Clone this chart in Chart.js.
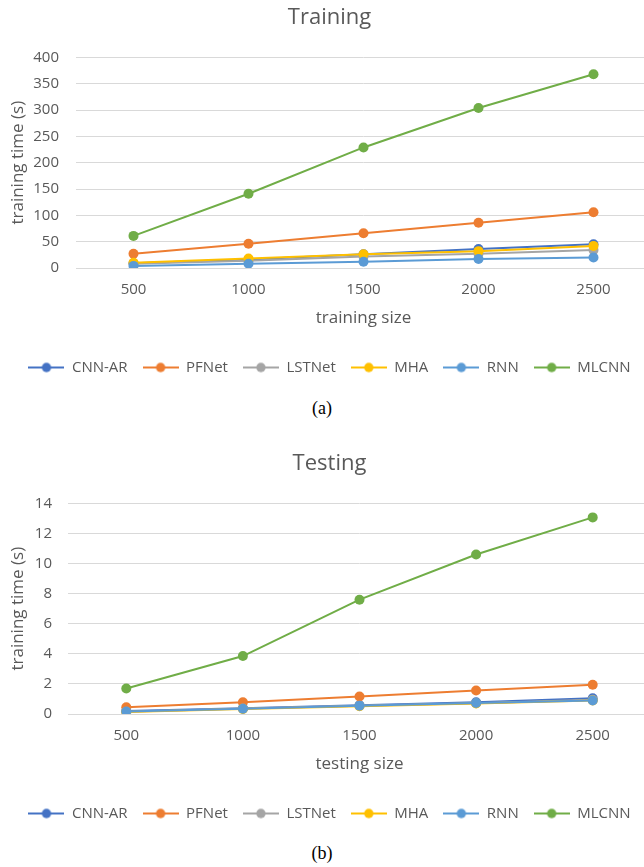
<!DOCTYPE html>
<html>
<head>
<meta charset="utf-8">
<script src="https://cdn.jsdelivr.net/npm/chart.js@4/dist/chart.umd.min.js"></script>
<style>
  html, body { margin: 0; padding: 0; background: #fff; overflow: hidden; width: 644px; height: 867px; }
  .wrap { position: absolute; left: 0; width: 656px; height: 385px; }
  .cap { position: absolute; left: 0; width: 644px; text-align: center; font-family: 'Liberation Serif', 'Times New Roman', serif; font-size: 18px; line-height: 22px; color: #000; }
</style>
</head>
<body>
<div class="wrap" style="top:0px"><canvas id="c1" width="656" height="385"></canvas></div>
<div class="cap" style="top:397px">(a)</div>
<div class="wrap" style="top:446px"><canvas id="c2" width="656" height="385"></canvas></div>
<div class="cap" style="top:842px">(b)</div>
<script>
// ---- data ----
const categories = ['500', '1000', '1500', '2000', '2500'];
const seriesNames = ['CNN-AR', 'PFNet', 'LSTNet', 'MHA', 'RNN', 'MLCNN'];

const cnnarTrain  = [9, 16, 26, 36, 45];
const pfnetTrain  = [27, 46, 66, 86, 106];
const lstnetTrain = [8, 14, 22, 27, 34];
const mhaTrain    = [10, 18, 26, 32, 42];
const rnnTrain    = [4, 8, 12, 17, 20];
const mlcnnTrain  = [61, 141, 229, 304, 368];

const cnnarTest  = [0.2, 0.38, 0.58, 0.78, 1.05];
const pfnetTest  = [0.45, 0.78, 1.16, 1.56, 1.95];
const lstnetTest = [0.15, 0.36, 0.55, 0.72, 0.95];
const mhaTest    = [0.13, 0.33, 0.52, 0.7, 0.9];
const rnnTest    = [0.17, 0.35, 0.55, 0.73, 0.9];
const mlcnnTest  = [1.7, 3.85, 7.6, 10.6, 13.07];

const trainTicks = { max: 400, step: 50 };
const testTicks  = { max: 14, step: 2 };

// ---- styles ----
const colors = ['#4472C4', '#ED7D31', '#A5A5A5', '#FFC000', '#5B9BD5', '#70AD47'];
const textColor = '#595959';
Chart.defaults.font.family = "'Open Sans', sans-serif";
Chart.defaults.color = textColor;

function makeIcon(color) {
  const c = document.createElement('canvas');
  c.width = 36; c.height = 12;
  const ctx = c.getContext('2d');
  ctx.strokeStyle = color; ctx.lineWidth = 2;
  ctx.beginPath(); ctx.moveTo(0, 6); ctx.lineTo(36, 6); ctx.stroke();
  ctx.fillStyle = color;
  ctx.beginPath(); ctx.arc(18, 6, 4.7, 0, Math.PI * 2); ctx.fill();
  return c;
}
const icons = colors.map(makeIcon);

function makeChart(id, title, xTitle, yTitle, seriesData, ticks, axisWidth, tickPad) {
  const datasets = seriesData.map((d, i) => ({
    label: seriesNames[i],
    data: d,
    borderColor: colors[i],
    backgroundColor: colors[i],
    pointBackgroundColor: colors[i],
    pointBorderColor: colors[i],
    borderWidth: 2,
    pointRadius: 5,
    pointBorderWidth: 0,
    tension: 0,
    order: seriesData.length - 1 - i
  }));
  return new Chart(document.getElementById(id), {
    type: 'line',
    data: { labels: categories, datasets },
    options: {
      responsive: false,
      animation: false,
      layout: { padding: { left: 8, right: 5, top: 0, bottom: 0 } },
      plugins: {
        tooltip: { enabled: false },
        title: {
          display: true, text: title, color: textColor,
          font: { size: 22, weight: 'normal' },
          padding: { top: 5, bottom: 26 }
        },
        legend: {
          position: 'bottom',
          labels: {
            usePointStyle: true,
            pointStyleWidth: 36,
            font: { size: 15 },
            color: textColor,
            padding: 15,
            generateLabels: (chart) => chart.data.datasets.map((ds, i) => ({
              text: ds.label,
              fillStyle: ds.borderColor,
              strokeStyle: ds.borderColor,
              lineWidth: 0,
              pointStyle: icons[i],
              hidden: false,
              datasetIndex: i,
              fontColor: textColor
            }))
          }
        }
      },
      scales: {
        x: {
          type: 'category',
          offset: true,
          grid: { display: false },
          border: { display: false },
          ticks: { font: { size: 15 }, padding: 5, color: textColor, maxRotation: 0 },
          title: { display: true, text: xTitle, color: textColor, font: { size: 17 }, padding: { top: 6, bottom: 17 } },
          afterFit: (scale) => { scale.height = 77; }
        },
        y: {
          min: 0, max: ticks.max,
          grid: { color: '#D9D9D9', lineWidth: 1, drawTicks: false },
          border: { display: false },
          ticks: { stepSize: ticks.step, font: { size: 15 }, padding: tickPad, color: textColor },
          title: { display: true, text: yTitle, color: textColor, font: { size: 17 }, padding: { top: 0, bottom: 6 } },
          afterFit: (scale) => { scale.width = axisWidth; }
        }
      }
    }
  });
}

makeChart('c1', 'Training', 'training size', 'training time (s)',
  [cnnarTrain, pfnetTrain, lstnetTrain, mhaTrain, rnnTrain, mlcnnTrain], trainTicks, 68, 17);
makeChart('c2', 'Testing', 'testing size', 'training time (s)',
  [cnnarTest, pfnetTest, lstnetTest, mhaTest, rnnTest, mlcnnTest], testTicks, 60, 16);
</script>
</body>
</html>
